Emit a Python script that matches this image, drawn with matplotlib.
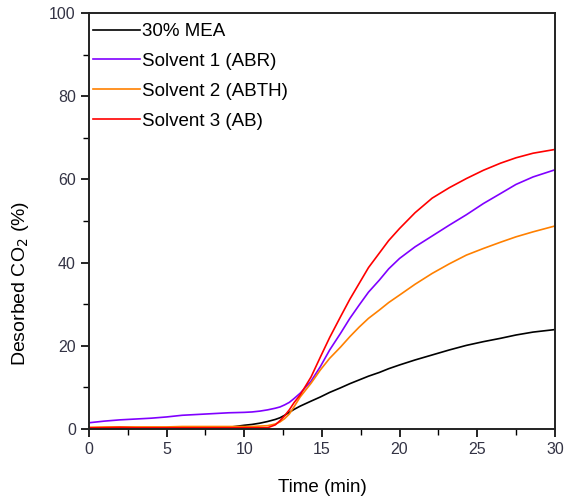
import matplotlib
matplotlib.use("Agg")
import matplotlib.pyplot as plt
from matplotlib.ticker import MultipleLocator

plt.rcParams['font.family'] = ['Liberation Sans', 'DejaVu Sans']

# Time axis (min)
time = [0, 1, 2, 3, 4, 5, 6, 7, 8, 9, 10, 10.5, 11, 11.5, 12, 12.3, 12.6, 12.9,
        13.2, 13.6, 14.3, 14.9, 15.5, 16.2, 16.8, 17.4, 18, 18.7, 19.3, 20, 21,
        22.1, 23.2, 24.3, 25.4, 26.5, 27.5, 28.6, 30]

# Desorbed CO2 (%) for each solvent
mea = [0.2, 0.2, 0.2, 0.2, 0.2, 0.2, 0.2, 0.3, 0.3, 0.4, 0.9, 1.1, 1.4, 1.8, 2.3,
       2.7, 3.3, 4.0, 4.7, 5.5, 6.7, 7.7, 8.8, 9.9, 10.9, 11.8, 12.7, 13.6, 14.5,
       15.4, 16.6, 17.8, 19.0, 20.1, 21.0, 21.8, 22.6, 23.3, 23.9]
abr = [1.5, 1.9, 2.2, 2.4, 2.6, 2.9, 3.3, 3.5, 3.7, 3.9, 4.0, 4.1, 4.3, 4.6, 5.0,
       5.3, 5.8, 6.4, 7.3, 8.6, 11.5, 15.0, 19.0, 23.0, 26.6, 29.8, 32.9, 35.8,
       38.5, 41.0, 43.8, 46.4, 49.0, 51.5, 54.2, 56.6, 58.8, 60.6, 62.3]
abth = [0.4, 0.5, 0.5, 0.5, 0.5, 0.5, 0.6, 0.6, 0.6, 0.6, 0.6, 0.6, 0.7, 0.8, 1.2,
        1.7, 2.5, 3.6, 5.3, 7.7, 11.0, 14.2, 17.0, 19.7, 22.2, 24.5, 26.6, 28.6,
        30.4, 32.2, 34.8, 37.4, 39.7, 41.8, 43.4, 44.9, 46.2, 47.4, 48.8]
ab = [0.3, 0.3, 0.4, 0.3, 0.3, 0.3, 0.3, 0.3, 0.3, 0.3, 0.3, 0.3, 0.3, 0.3, 1.0,
      2.0, 3.2, 4.6, 6.3, 8.2, 12.5, 17.3, 22.0, 27.0, 31.2, 35.0, 38.8, 42.3,
      45.3, 48.2, 52.0, 55.5, 58.0, 60.2, 62.2, 63.9, 65.2, 66.3, 67.2]

labels = ['30% MEA', 'Solvent 1 (ABR)', 'Solvent 2 (ABTH)', 'Solvent 3 (AB)']
colors = ['#000000', '#8000ff', '#ff8000', '#ff0000']

fig = plt.figure(figsize=(5.65, 5.01), dpi=100)
ax = fig.add_axes([0.1575, 0.1437, 0.8245, 0.8303])

for y, lab, c in zip([mea, abr, abth, ab], labels, colors):
    ax.plot(time, y, color=c, lw=1.2, label=lab)

ax.set_xlim(0, 30)
ax.set_ylim(0, 100)
ax.xaxis.set_major_locator(MultipleLocator(5))
ax.xaxis.set_minor_locator(MultipleLocator(2.5))
ax.yaxis.set_major_locator(MultipleLocator(20))
ax.yaxis.set_minor_locator(MultipleLocator(10))
ax.tick_params(which='major', direction='out', length=6, width=1.2,
               labelsize=11.5, labelcolor='#333344', top=False, right=False)
ax.tick_params(which='minor', direction='out', length=4, width=1.0,
               top=False, right=False)
for s in ax.spines.values():
    s.set_linewidth(1.4)
    s.set_color('#222222')

ax.set_xlabel('Time (min)', fontsize=13.5, labelpad=16)
ax.set_ylabel('Desorbed CO$_2$ (%)', fontsize=14)
ax.yaxis.set_label_coords(-0.125, 0.35)

ax.legend(loc='upper left', bbox_to_anchor=(0.0, 0.985), frameon=False,
          fontsize=13.5, handlelength=2.5, handletextpad=0.15, labelspacing=0.68,
          borderaxespad=0.0, borderpad=0.2)

fig.savefig('out.png', dpi=100)
